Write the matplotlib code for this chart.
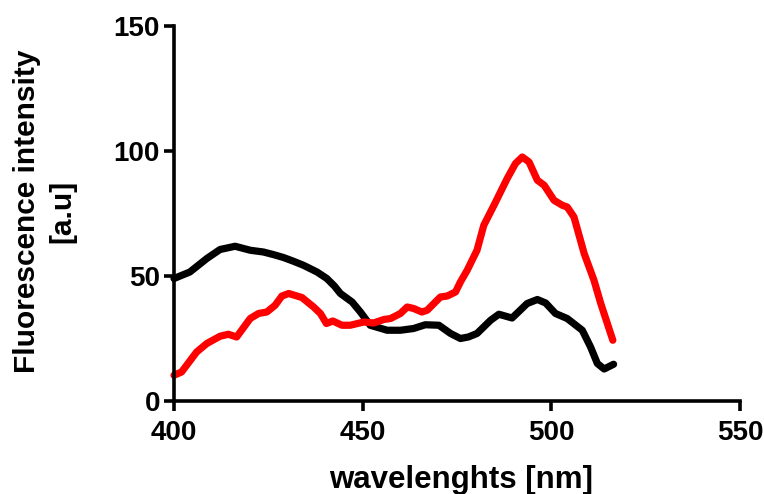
import matplotlib
matplotlib.use("Agg")
import matplotlib.pyplot as plt

black_x = [400, 404.2, 408.7, 412.2, 416.2, 420.2, 423.7, 426.5, 429, 431.5, 434.3, 437.9, 440.5, 442.5,
           444.1, 447.2, 449.4, 452, 456.5, 460, 463.5, 466.6, 470.2, 473.3, 475.9, 478, 480.3, 483.9,
           486.1, 489.6, 493.6, 496.3, 498.5, 501.1, 504.2, 508.2, 510.4, 512.2, 514, 516.5]
black_y = [49, 51.6, 57, 60.6, 61.9, 60.3, 59.6, 58.5, 57.4, 56, 54.3, 51.6, 49, 46,
           43, 39.6, 35.6, 30.3, 28.3, 28.3, 29, 30.5, 30.3, 27, 25, 25.6, 27, 32.3,
           34.7, 33.2, 39, 40.6, 39.2, 35, 33, 28.3, 21.6, 15, 12.8, 14.7]

red_x = [400, 402, 406, 408.7, 412.2, 414.4, 416.6, 420.2, 422.4, 424.6, 426.8, 428.6, 430.4, 433.9,
         437, 438.8, 440.4, 442.1, 444.5, 446.7, 450.3, 452.9, 455.6, 457.4, 460, 461.8, 463.5, 465.7,
         467.1, 470.6, 472.4, 474.6, 475.9, 477.7, 480.3, 482.1, 484.8, 488.3, 490.5, 492.3, 494.1,
         496.3, 498.1, 500.7, 502.9, 504.2, 506, 508.7, 511.3, 513.1, 516.3]
red_y = [10.3, 11.6, 19.6, 23, 25.9, 26.7, 25.6, 33, 35, 35.6, 38.3, 42, 43, 41.4,
         37.6, 35, 31, 32, 30.3, 30.3, 31.6, 31.2, 32.6, 33, 35, 37.6, 37, 35.6,
         36.3, 41.6, 42, 43.6, 47.6, 52.3, 60.3, 70.3, 78.3, 89, 95, 97.6, 95.6,
         88.3, 86.3, 80.3, 78.3, 77.6, 73.6, 59, 48.3, 39, 24.3]

x_ticks = [400, 450, 500, 550]
y_ticks = [0, 50, 100, 150]

plt.rcParams['font.family'] = ['Liberation Sans', 'DejaVu Sans']
plt.rcParams['font.weight'] = 'bold'

fig = plt.figure(figsize=(7.64, 4.94), dpi=100)
ax = fig.add_axes([174/764, 1-401/494, (740-174)/764, (401-26)/494])

ax.plot(black_x, black_y, color='black', lw=5.2, solid_joinstyle='round', solid_capstyle='round', clip_on=False)
ax.plot(red_x, red_y, color='#ff0000', lw=5.2, solid_joinstyle='round', solid_capstyle='round', clip_on=False)

ax.set_xlim(400, 550)
ax.set_ylim(0, 150)
ax.set_xticks(x_ticks)
ax.set_yticks(y_ticks)
ax.spines['top'].set_visible(False)
ax.spines['right'].set_visible(False)
for s in ('left', 'bottom'):
    ax.spines[s].set_linewidth(2.6)
ax.tick_params(axis='both', direction='out', length=7, width=2.6, labelsize=20)
ax.tick_params(axis='x', pad=7)
ax.tick_params(axis='y', pad=3)
for lab in ax.get_xticklabels() + ax.get_yticklabels():
    lab.set_fontweight('bold')

fig.text(461/764, 1-480/494, 'wavelenghts [nm]', fontsize=22.5, fontweight='bold',
         ha='center', va='center')
fig.text(45/764, 1-211/494, 'Fluorescence intensity\n[a.u]', fontsize=21.5, fontweight='bold',
         ha='center', va='center', rotation=90, linespacing=1.35, multialignment='center')

fig.savefig('out.png', dpi=100)
